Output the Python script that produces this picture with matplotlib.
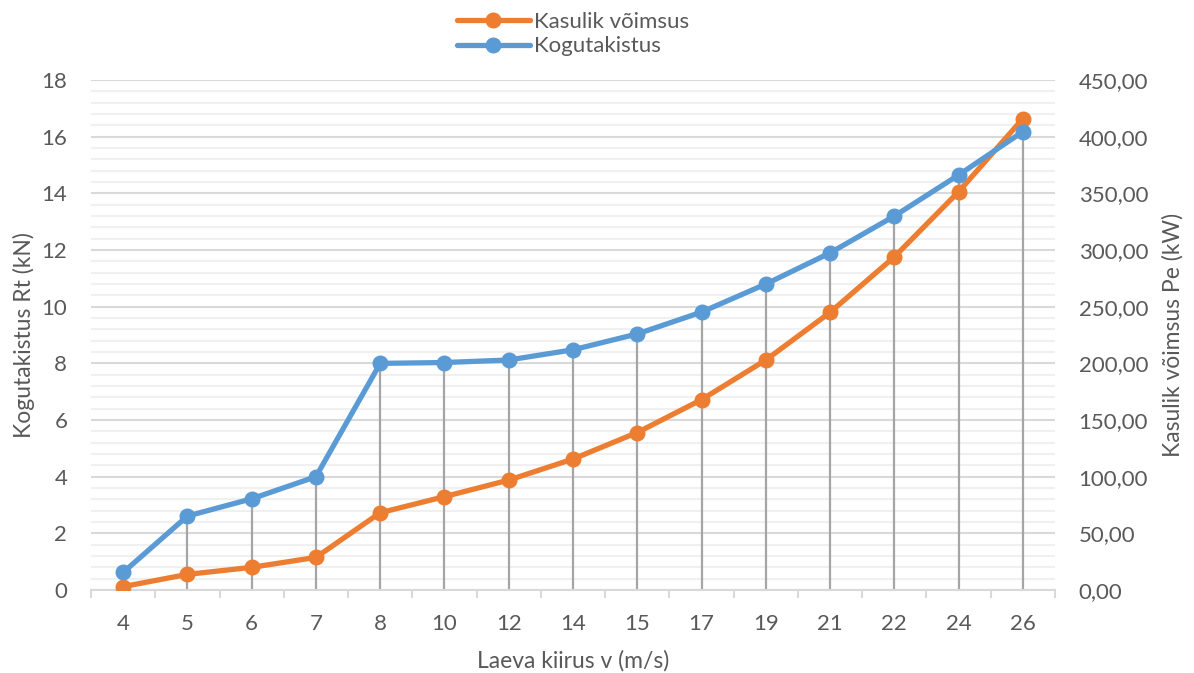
import matplotlib
matplotlib.use("Agg")
import matplotlib.pyplot as plt
from matplotlib.ticker import MultipleLocator, FuncFormatter

# Ship speed categories and measured values
speeds = ["4", "5", "6", "7", "8", "10", "12", "14", "15", "17", "19", "21", "22", "24", "26"]
total_resistance_kN = [0.62, 2.61, 3.22, 4.0, 8.0, 8.03, 8.12, 8.48, 9.04, 9.81, 10.8, 11.9, 13.2, 14.65, 16.18]
effective_power_kW = [3.0, 13.8, 20.0, 28.8, 68.2, 82.4, 97.0, 115.6, 139.0, 168.0, 203.0, 245.0, 294.0, 351.5, 416.0]

ORANGE = "#ED7D31"
BLUE = "#5B9BD5"
TEXT = "#595959"
FONT = ["Lato", "DejaVu Sans"]

plt.rcParams["font.family"] = FONT

fig = plt.figure(figsize=(11.94, 6.73), dpi=100)
ax2 = fig.add_axes([0.0762, 0.1233, 0.8074, 0.7577])   # right axis: power
ax = ax2.twinx()                                        # left axis: resistance
ax.yaxis.tick_left()
ax.yaxis.set_label_position("left")
ax2.yaxis.tick_right()
ax2.yaxis.set_label_position("right")

# resistance series drawn above the power series
ax.set_zorder(ax2.get_zorder() + 1)
ax.patch.set_visible(False)

x = list(range(len(speeds)))

ax.set_ylim(0, 18)
ax2.set_ylim(0, 450)
ax.set_xlim(-0.5, len(speeds) - 0.5)
ax2.set_xlim(-0.5, len(speeds) - 0.5)

# Gridlines (on the power axis, which shares the same positions)
ax2.yaxis.set_major_locator(MultipleLocator(50))
ax2.yaxis.set_minor_locator(MultipleLocator(10))
ax2.grid(which="major", axis="y", color="#D9D9D9", linewidth=1.5, zorder=0)
ax2.grid(which="minor", axis="y", color="#F0F0F0", linewidth=1.5, zorder=0)
ax2.set_axisbelow(True)

# Drop lines from the higher of the two markers down to the axis
for xi, r, p in zip(x, total_resistance_kN, effective_power_kW):
    top = max(p, r * 450 / 18)
    ax2.vlines(xi, 0, top, color="#A5A5A5", linewidth=1.6, zorder=1)

l_orange, = ax2.plot(x, effective_power_kW, color=ORANGE, linewidth=3.8,
                     marker="o", markersize=10.5, zorder=3, solid_capstyle="round",
                     label="Kasulik võimsus")
l_blue, = ax.plot(x, total_resistance_kN, color=BLUE, linewidth=3.8,
                  marker="o", markersize=10.5, zorder=3, solid_capstyle="round",
                  label="Kogutakistus")

# Axes styling
for a in (ax, ax2):
    for s in a.spines.values():
        s.set_visible(False)
ax2.spines["bottom"].set_visible(True)
ax2.spines["bottom"].set_color("#D9D9D9")
ax2.spines["bottom"].set_linewidth(1.5)

TICK_SIZE = 16
LABEL_SIZE = 16.5

ax.yaxis.set_major_locator(MultipleLocator(2))
ax.tick_params(axis="y", length=0, labelsize=TICK_SIZE, labelcolor=TEXT, pad=17)
ax2.tick_params(axis="y", which="both", length=0, labelsize=TICK_SIZE, labelcolor=TEXT, pad=17)
ax2.yaxis.set_major_formatter(FuncFormatter(lambda v, _: f"{v:.2f}".replace(".", ",")))

# Category labels at centers, tick marks between categories
ax.set_xticks([])
ax2.set_xticks(x)
ax2.set_xticklabels(speeds)
ax2.tick_params(axis="x", which="major", length=0, labelsize=TICK_SIZE, labelcolor=TEXT, pad=17)
ax2.set_xticks([i - 0.5 for i in range(len(speeds) + 1)], minor=True)
ax2.tick_params(axis="x", which="minor", length=6, width=1.5, color="#D9D9D9")

ax.set_ylabel("Kogutakistus Rt (kN)", fontsize=LABEL_SIZE, color=TEXT, labelpad=5)
ax2.set_ylabel("Kasulik võimsus Pe (kW)", fontsize=LABEL_SIZE, color=TEXT, labelpad=10)
ax2.set_xlabel("Laeva kiirus v (m/s)", fontsize=LABEL_SIZE, color=TEXT, labelpad=12)

fig.legend(handles=[l_orange, l_blue], loc="upper center", bbox_to_anchor=(0.48, 1.012),
           ncol=1, frameon=False, fontsize=TICK_SIZE, handlelength=3.3, handletextpad=0.2,
           labelspacing=0.2, labelcolor=TEXT)

fig.savefig("out.png", dpi=100)
